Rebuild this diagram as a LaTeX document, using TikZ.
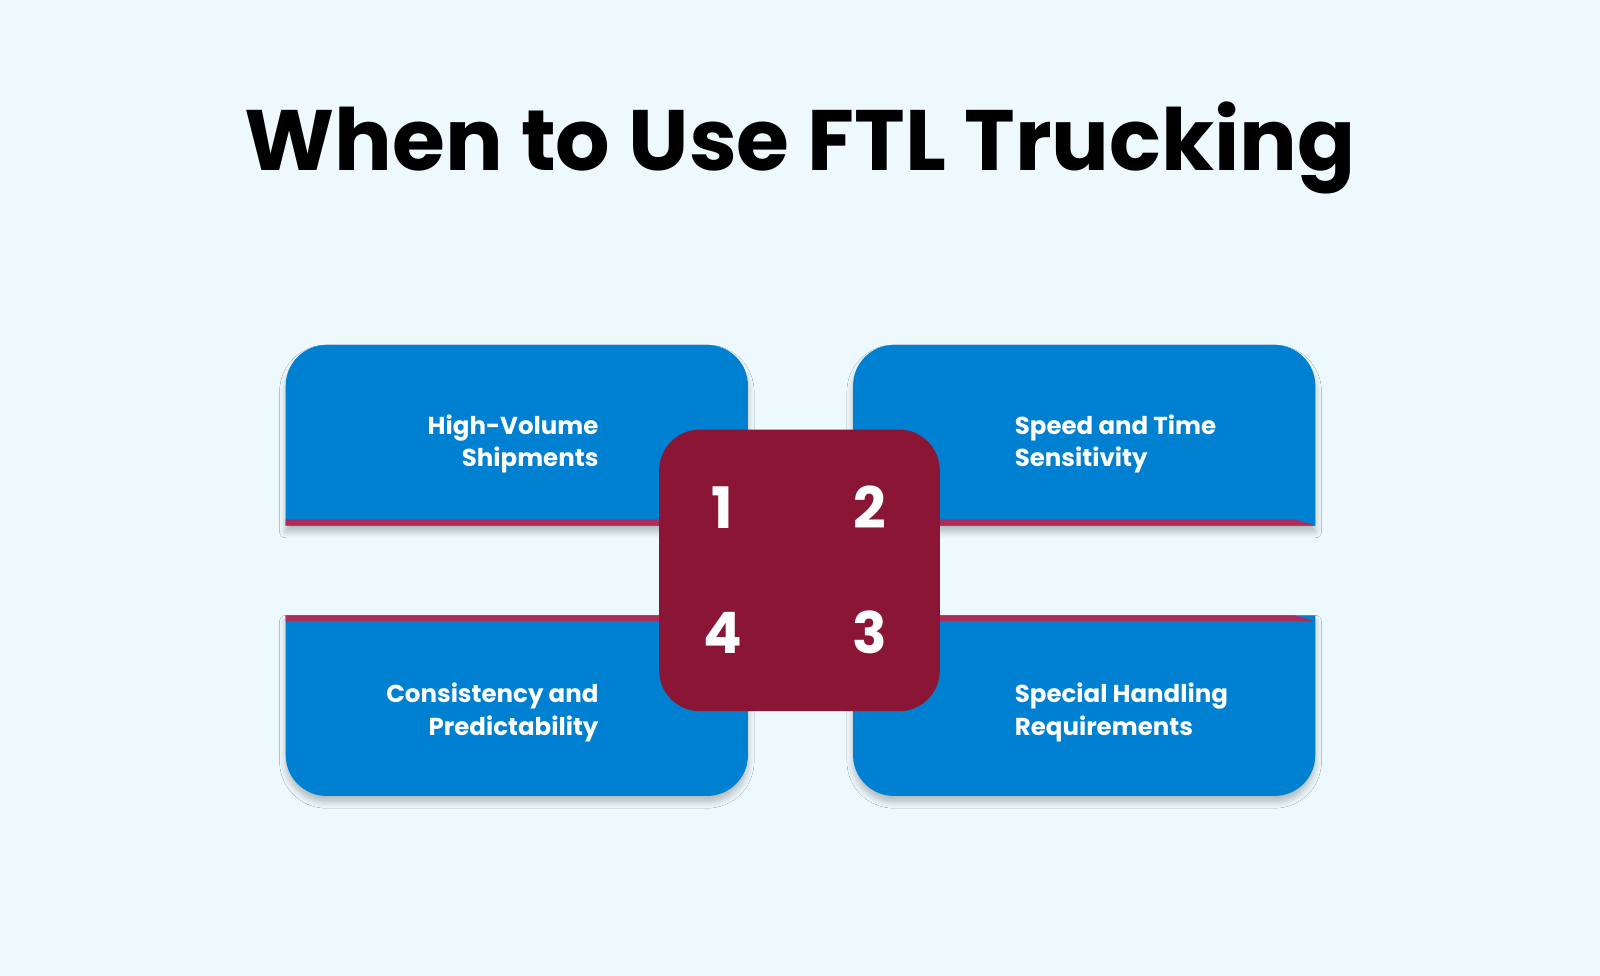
\documentclass[tikz,border=0pt]{standalone}
\usepackage{fontspec}
\setmainfont{Poppins}
\definecolor{bg}{HTML}{EEF9FD}
\definecolor{boxblue}{HTML}{0080D0}
\definecolor{crim}{HTML}{8B1535}
\definecolor{stripe}{HTML}{B02A5A}
\usetikzlibrary{shadows.blur}
\begin{document}
\begin{tikzpicture}[x=1pt,y=-1pt,
  lbl/.style={text=white,font=\fontsize{24}{32}\selectfont\bfseries},
  num/.style={text=white,font=\fontsize{56}{60}\selectfont\bfseries},
  shd/.style={blur shadow={shadow xshift=0pt,shadow yshift=-6pt,shadow blur radius=6pt,shadow opacity=25}}]
\fill[bg] (0,0) rectangle (1568,956);
\useasboundingbox (0,0) rectangle (1568,956);
\node[font=\fontsize{84}{90}\selectfont\bfseries] (title) at (784,145) {When to Use FTL Trucking};
\foreach \x in {280,836}{
  \fill[boxblue,shd] (\x,515) -- (\x,378) arc[start angle=180,end angle=270,radius=40] -- (\x+413,338) arc[start angle=270,end angle=360,radius=40] -- (\x+453,515) -- cycle;
  \fill[stripe] (\x,509) -- (\x+433,509) -- (\x+453,515) -- (\x,515) -- cycle;
  \fill[boxblue,shd] (\x,603) -- (\x+453,603) -- (\x+453,740) arc[start angle=0,end angle=90,radius=40] -- (\x+40,780) arc[start angle=90,end angle=180,radius=40] -- cycle;
  \fill[stripe] (\x,603) -- (\x+433,603) -- (\x+453,609) -- (\x,609) -- cycle;
}
\node[fill=crim,minimum width=275pt,minimum height=276pt,rounded corners=40pt] (center) at (783.5,559) {};
\node[num] (n1) at (708,497) {1};
\node[num] (n2) at (852,497) {2};
\node[num] (n4) at (708,620) {4};
\node[num] (n3) at (852,620) {3};
\node[lbl,anchor=east,align=right] (l1) at (590,435) {High-Volume\\Shipments};
\node[lbl,anchor=west,align=left] (l2) at (991,435) {Speed and Time\\Sensitivity};
\node[lbl,anchor=east,align=right] (l4) at (590,698) {Consistency and\\Predictability};
\node[lbl,anchor=west,align=left] (l3) at (991,698) {Special Handling\\Requirements};
\end{tikzpicture}
\end{document}
